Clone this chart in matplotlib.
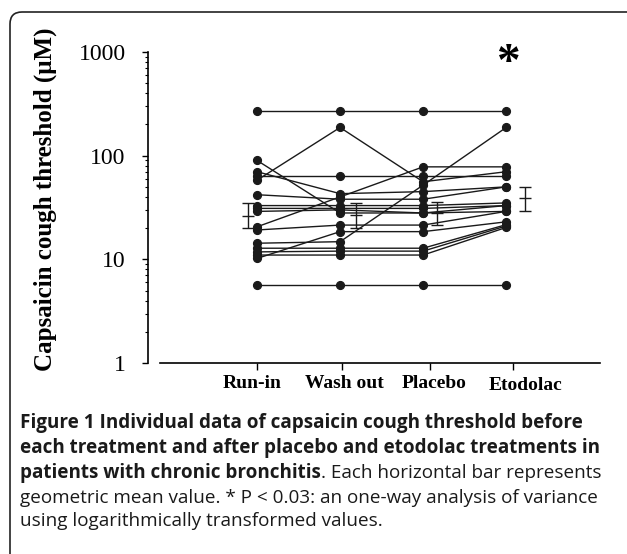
import numpy as np
import matplotlib
matplotlib.use("Agg")
import matplotlib.pyplot as plt
from matplotlib.patches import FancyBboxPatch
from matplotlib.transforms import IdentityTransform

# individual subjects: run-in, wash out, placebo, etodolac (uM)
groups = ["Run-in", "Wash out", "Placebo", "Etodolac"]
subjects = [
    [270, 270, 270, 270],
    [5.7, 5.7, 5.7, 5.7],
    [58, 187, 56, 70],
    [90, 28, 28, 33],
    [70, 43, 45, 50],
    [63, 63, 63, 63],
    [20.6, 40, 78, 78],
    [10.2, 18.5, 18.5, 23],
    [12.8, 12.8, 12.8, 21.6],
    [11, 11, 11, 20.3],
    [14.3, 14.8, 52, 187],
    [42, 38, 38, 50],
    [33, 33, 33, 35],
    [31, 31, 31, 33],
    [29, 30, 28, 29],
    [19.2, 21.4, 21.4, 29],
    [11.8, 12, 12, 21],
]
# geometric mean and bar ends
gmean = [26, 27, 28, 38.8]
gm_lo = [20, 20.2, 21.4, 29.4]
gm_hi = [35, 35, 36, 50]
bar_shift = [-0.11, 0.19, 0.17, 0.23]
tick_shift = [0.0, 0.02, 0.08, 0.08]

# caption lines: (bold part, regular part)
caption = [
    ("Figure 1 Individual data of capsaicin cough threshold before", ""),
    ("each treatment and after placebo and etodolac treatments in", ""),
    ("patients with chronic bronchitis", ". Each horizontal bar represents"),
    ("", "geometric mean value. * P < 0.03: an one-way analysis of variance"),
    ("", "using logarithmically transformed values."),
]

W, H = 627, 554
fig = plt.figure(figsize=(W / 100, H / 100), dpi=100)

# rounded frame
frame = FancyBboxPatch((10, -60), 700, H - 12 + 60, boxstyle="round,pad=0,rounding_size=12",
                       transform=IdentityTransform(), fill=False, lw=1.2, ec="#222222")
fig.add_artist(frame)

ax = fig.add_axes([148 / W, 1 - 363 / H, (600 - 148) / W, (363 - 52) / H])
x = np.arange(len(groups))
for s in subjects:
    ax.plot(x, s, "-", color="#1a1a1a", lw=1.0, marker="o", ms=5.6, mfc="#1a1a1a", mec="#1a1a1a")

for i in range(len(groups)):
    ax.errorbar(x[i] + bar_shift[i], gmean[i],
                yerr=[[gmean[i] - gm_lo[i]], [gm_hi[i] - gmean[i]]],
                fmt="_", color="#1a1a1a", ms=8, mew=1.0, elinewidth=1.0, capsize=4, capthick=1.0)

ax.set_yscale("log")
ax.set_ylim(1, 1000)
ax.set_xlim(-1.313, 4.13)
ax.set_yticks([1, 10, 100, 1000])
ax.set_yticklabels(["1", "10", "100", "1000"], family="Liberation Serif", fontsize=17)
ax.set_xticks(x + np.array(tick_shift))
ax.set_xticklabels([])
ax.tick_params(axis="y", which="major", direction="out", length=4, width=1, pad=12)
ax.tick_params(axis="y", which="minor", direction="out", length=2.5, width=0.8)
ax.tick_params(axis="x", direction="out", length=5, width=1)
ax.spines["top"].set_visible(False)
ax.spines["right"].set_visible(False)
ax.spines["left"].set_linewidth(1.2)
ax.spines["bottom"].set_linewidth(1.2)
ax.spines["bottom"].set_bounds(-1.169, 4.13)

lab_x = [252, 344, 434, 526]
lab_y = [383, 383, 383, 386]
for g, lx, ly in zip(groups, lab_x, lab_y):
    fig.text(lx / W, 1 - ly / H, g, ha="center", va="center", family="Liberation Serif",
             weight="bold", fontsize=14)

fig.text(45 / W, 1 - 199 / H, "Capsaicin cough threshold (\u03bcM)", rotation=90, ha="center",
         va="center", family="Liberation Serif", weight="bold", fontsize=18)

fig.text(508 / W, 1 - 64 / H, "*", ha="center", va="center", family="Liberation Serif",
         weight="bold", fontsize=34)

# caption
r = fig.canvas.get_renderer()
cap_kw = dict(family="Open Sans", fontsize=13.6, color="#1a1a1a", va="baseline", ha="left")
lines_y = [428, 453, 478, 503, 526]
for (bold, reg), ly in zip(caption, lines_y):
    px = 20
    if bold:
        t = fig.text(px / W, 1 - ly / H, bold, weight="bold", **cap_kw)
        px = t.get_window_extent(r).x1
    if reg:
        fig.text(px / W, 1 - ly / H, reg, **cap_kw)

fig.savefig("out.png", dpi=100)
